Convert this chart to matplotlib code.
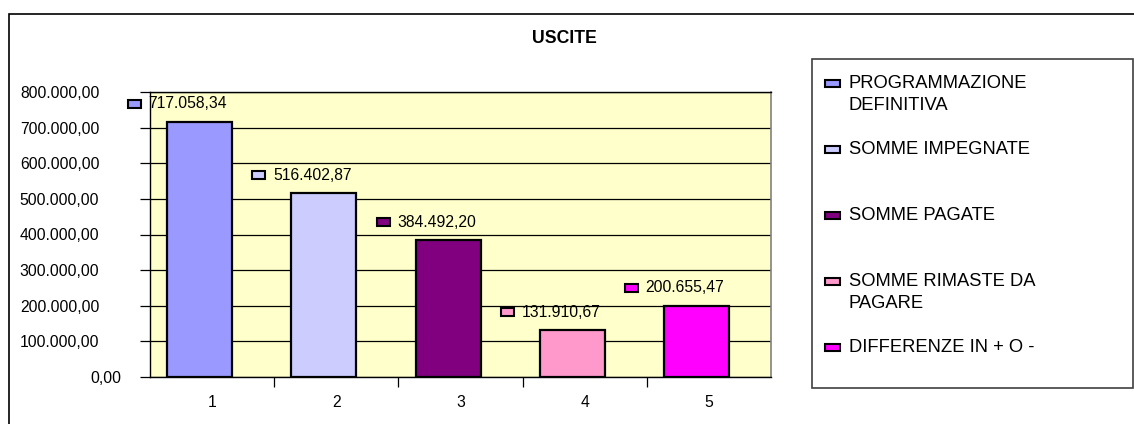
import matplotlib.pyplot as plt
from matplotlib.patches import Rectangle
from matplotlib.transforms import ScaledTranslation

plt.rcParams['font.family'] = ['Liberation Sans', 'DejaVu Sans']

title = 'USCITE'
categories = [1, 2, 3, 4, 5]
values = [717058.34, 516402.87, 384492.20, 131910.67, 200655.47]
series = ['PROGRAMMAZIONE\nDEFINITIVA', 'SOMME IMPEGNATE', 'SOMME PAGATE',
          'SOMME RIMASTE DA\nPAGARE', 'DIFFERENZE IN + O -']
colors = ['#9999FF', '#CCCCFF', '#800080', '#FF99CC', '#FF00FF']
yticks = [0, 100000, 200000, 300000, 400000, 500000, 600000, 700000, 800000]


def it_fmt(v):
    s = f'{v:,.2f}'
    return s.replace(',', 'X').replace('.', ',').replace('X', '.')


W, H = 1134, 424
fig = plt.figure(figsize=(W / 100, H / 100), dpi=100)


def px(x, y):
    return x / W, 1 - y / H


# outer chart frame
fig.patches.append(Rectangle(px(9, 440), 1.2, (440 - 14) / H, transform=fig.transFigure,
                             facecolor='none', edgecolor='black', lw=1.2, zorder=0))

ax = fig.add_axes([150 / W, 47 / H, 621 / W, 285 / H])
ax.set_facecolor('#FFFFCC')

bar_shift = -0.1
bar_w = 0.523
xs = [c + bar_shift for c in categories]
ax.bar(xs, values, width=bar_w, color=colors, edgecolor='black', linewidth=1.6, zorder=3)

ax.set_xlim(0.5, 5.5)
ax.set_ylim(0, 800000)
ax.set_yticks(yticks)
ax.set_yticklabels([it_fmt(v) for v in yticks])
ax.yaxis.grid(True, color='black', linewidth=0.9, zorder=1)
ax.set_axisbelow(True)

ax.set_xticks(categories)
ax.set_xticklabels([str(c) for c in categories])
ax.set_xticks([c + 0.5 for c in categories[:-1]], minor=True)
ax.tick_params(axis='x', which='major', length=0, pad=13, labelsize=11.3)
ax.tick_params(axis='x', which='minor', length=7, width=0.9, direction='out')
ax.tick_params(axis='y', length=7, width=0.9, direction='out', pad=29.5, labelsize=11.3)

for side in ['left', 'bottom', 'top']:
    ax.spines[side].set_color('black')
    ax.spines[side].set_linewidth(1.0)
ax.spines['right'].set_color('#808080')
ax.spines['right'].set_linewidth(1.2)

# Excel quirk: the zero label sits further right
lbl0 = ax.get_yticklabels()[0]
lbl0.set_transform(lbl0.get_transform() + ScaledTranslation(0.22, 0, fig.dpi_scale_trans))

# data labels: legend key + value above each bar
ypp = 800000 / 285  # data units per pixel
xpp = 5 / 621
for x, v, c in zip(xs, values, colors):
    yc = v + 18 * ypp
    ax.add_patch(Rectangle((x - 71.5 * xpp, yc - 4 * ypp), 13 * xpp, 8 * ypp,
                           facecolor=c, edgecolor='black', lw=1.5, zorder=4, clip_on=False))
    ax.text(x - 51 * xpp, yc, it_fmt(v), fontsize=11.3, va='center', ha='left', zorder=5,
            clip_on=False)

fig.text(*px(564, 38.5), title, fontsize=12.7, fontweight='bold', ha='center', va='center')

# legend box
fig.patches.append(Rectangle(px(812, 388), (1133 - 812) / W, (388 - 59) / H,
                             transform=fig.transFigure, facecolor='white',
                             edgecolor='#404040', lw=1.2, zorder=1))
for i, (name, c) in enumerate(zip(series, colors)):
    y0 = 83 + 66 * i
    fig.patches.append(Rectangle(px(825, y0 + 3.5), 15 / W, 7 / H, transform=fig.transFigure,
                                 facecolor=c, edgecolor='black', lw=1.5, zorder=2))
    for k, line in enumerate(name.split('\n')):
        fig.text(*px(849, y0 + 22 * k), line, fontsize=13.2, ha='left', va='center', zorder=3)

fig.savefig('out.png', dpi=100)
